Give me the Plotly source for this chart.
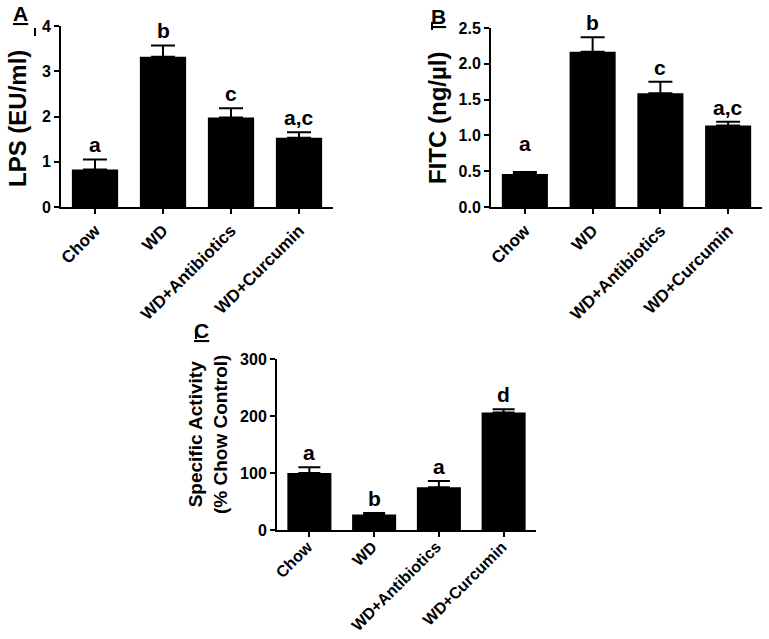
import plotly.graph_objects as go

categories = ["Chow", "WD", "WD+Antibiotics", "WD+Curcumin"]

lps_values = [0.83, 3.32, 1.98, 1.53]
lps_err = [0.22, 0.25, 0.20, 0.12]
lps_letters = ["a", "b", "c", "a,c"]

fitc_values = [0.46, 2.17, 1.59, 1.14]
fitc_err = [0.03, 0.20, 0.16, 0.05]
fitc_letters = ["a", "b", "c", "a,c"]

act_values = [100, 27, 75, 206]
act_err = [10, 3, 11, 6]
act_letters = ["a", "b", "a", "d"]

FONT = "Liberation Sans, Arial, sans-serif"
W, H = 769, 639

fig = go.Figure()

panels = [
    dict(vals=lps_values, err=lps_err, letters=lps_letters, xa="x", ya="y", cap=12),
    dict(vals=fitc_values, err=fitc_err, letters=fitc_letters, xa="x2", ya="y2", cap=12),
    dict(vals=act_values, err=act_err, letters=act_letters, xa="x3", ya="y3", cap=11),
]

for p in panels:
    fig.add_trace(go.Bar(
        x=categories, y=p["vals"], width=0.68,
        marker=dict(color="black", line=dict(color="black", width=0)),
        error_y=dict(type="data", symmetric=False, array=p["err"],
                     arrayminus=[0] * len(p["err"]), color="black",
                     thickness=2, width=p["cap"]),
        xaxis=p["xa"], yaxis=p["ya"], showlegend=False, hoverinfo="skip",
    ))
    for i, (c, v, e, t) in enumerate(zip(categories, p["vals"], p["err"], p["letters"])):
        shift = 1
        if p["xa"] == "x2" and i == 0:
            shift = 15
        fig.add_annotation(x=c, y=v + e, xref=p["xa"], yref=p["ya"], text=t,
                           showarrow=False, yanchor="bottom", yshift=shift,
                           font=dict(family=FONT, size=21, color="black", weight="bold"))


def px_dom_x(a, b):
    return [a / W, b / W]


def px_dom_y(top, bottom):
    return [1 - bottom / H, 1 - top / H]


XRANGE = [-0.5, len(categories) - 0.5]


def xaxis_style(fs, show=True):
    return dict(showline=True, linecolor="black", linewidth=2, ticks="outside",
                ticklen=5, tickwidth=2, tickcolor="black", showgrid=False,
                zeroline=False, tickangle=-45, automargin=False, showticklabels=show,
                range=XRANGE, autorange=False,
                tickfont=dict(family=FONT, size=fs, color="black", weight="bold"))


ycommon = dict(showline=True, linecolor="black", linewidth=2, ticks="outside",
               ticklen=5, tickwidth=2, tickcolor="black", showgrid=False,
               zeroline=False, automargin=False, autorange=False,
               tickfont=dict(family=FONT, size=16, color="black", weight="bold"))

C_BOTTOM = 530
fig.update_layout(
    width=W, height=H, margin=dict(l=0, r=0, t=0, b=0),
    paper_bgcolor="white", plot_bgcolor="white",
    xaxis=dict(domain=px_dom_x(61, 333), anchor="y", **xaxis_style(17)),
    yaxis=dict(domain=px_dom_y(26, 207), anchor="x", range=[0, 4], dtick=1, **ycommon),
    xaxis2=dict(domain=px_dom_x(491, 762), anchor="y2", **xaxis_style(17)),
    yaxis2=dict(domain=px_dom_y(28, 207), anchor="x2", range=[0, 2.5], dtick=0.5,
                tickformat=".1f", **ycommon),
    xaxis3=dict(domain=px_dom_x(277, 536), anchor="y3", **xaxis_style(16, show=False)),
    yaxis3=dict(domain=px_dom_y(359, C_BOTTOM), anchor="x3", range=[0, 300], dtick=100, **ycommon),
)

# panel C category labels (placed closer to the axis than the default tick labels)
for c in categories:
    fig.add_annotation(x=c, xref="x3", y=1 - C_BOTTOM / H, yref="paper", text=c,
                       showarrow=False, textangle=-45, xanchor="right", yanchor="top",
                       xshift=9, yshift=-5,
                       font=dict(family=FONT, size=16, color="black", weight="bold"))

# y-axis titles
titles = [
    ("LPS (EU/ml)", 17, 119, 24),
    ("FITC (ng/\u00b5l)", 437, 118, 24),
    ("Specific Activity<br>(% Chow Control)", 208, 435, 19),
]
for txt, xc, yc, fs in titles:
    fig.add_annotation(x=xc / W, y=1 - yc / H, xref="paper", yref="paper", text=txt,
                       showarrow=False, textangle=-90, xanchor="center", yanchor="middle",
                       font=dict(family=FONT, size=fs, color="black", weight="bold"))

# panel letters
for lab, xc, yc in [("A", 20, 14), ("B", 439, 16), ("C", 202, 330)]:
    fig.add_annotation(x=xc / W, y=1 - yc / H, xref="paper", yref="paper",
                       text="<u>" + lab + "</u>", showarrow=False,
                       xanchor="center", yanchor="middle",
                       font=dict(family=FONT, size=21, color="black", weight="bold"))

# small vertical marks next to the panel letters
for x0, y0, y1 in [(35, 28, 36), (432, 22, 30), (196, 332, 339)]:
    fig.add_shape(type="line", xref="paper", yref="paper",
                  x0=x0 / W, x1=x0 / W, y0=1 - y0 / H, y1=1 - y1 / H,
                  line=dict(color="black", width=2))

fig.write_html("out.html", config={"displayModeBar": False},
               post_script="document.body.style.margin='0';document.body.style.overflow='hidden';")
